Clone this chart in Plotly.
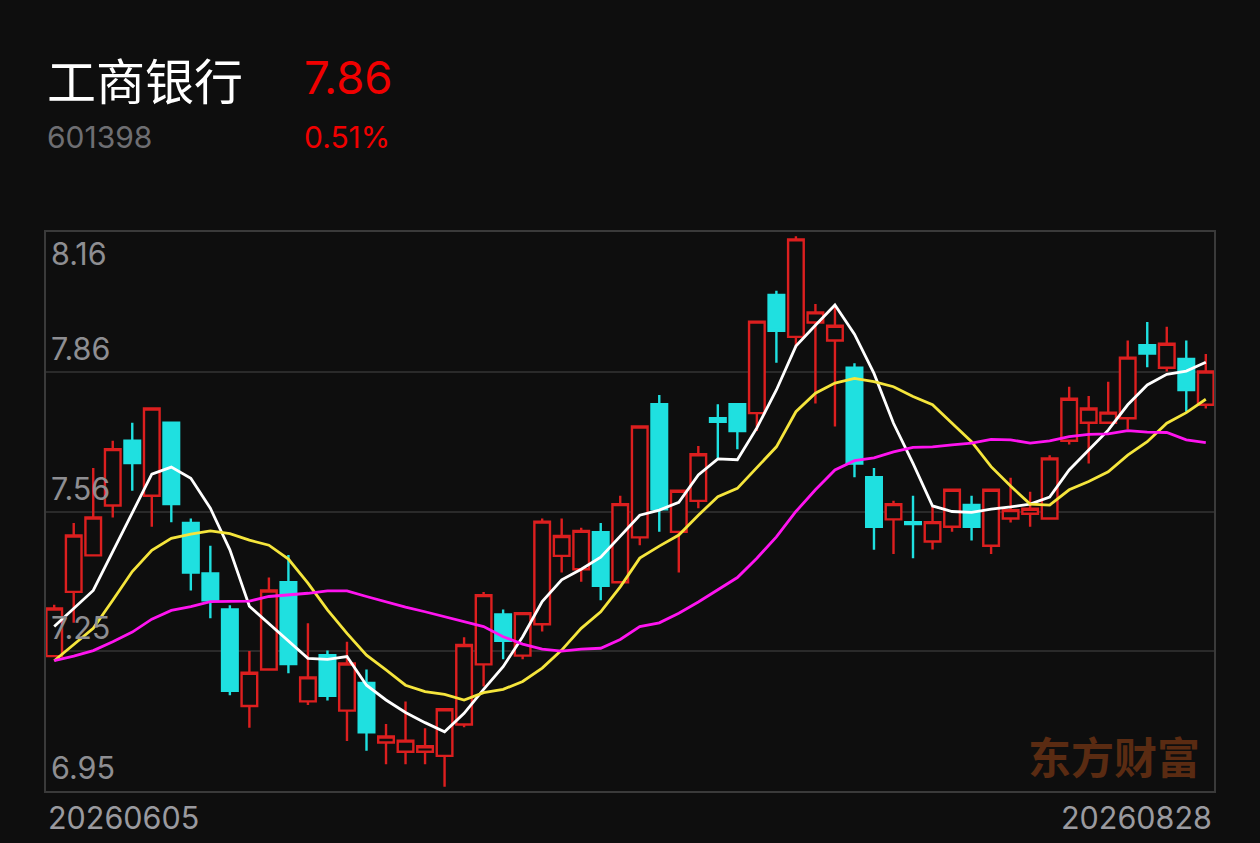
import plotly.graph_objects as go

# stock header
stock_name = "工商银行"
stock_code = "601398"
last_price = "7.86"
change_pct = "0.51%"
date_first = "20260605"
date_last = "20260828"
watermark = "东方财富"

# daily candles, 2026-06-05 .. 2026-08-28
opens = [7.242, 7.381, 7.460, 7.568, 7.708, 7.589, 7.747, 7.530, 7.421, 7.343,
         7.134, 7.213, 7.402, 7.144, 7.244, 7.124, 7.184, 7.055, 7.035, 7.035,
         7.026, 7.094, 7.224, 7.332, 7.243, 7.311, 7.459, 7.430, 7.510, 7.402,
         7.499, 7.787, 7.511, 7.578, 7.757, 7.787, 7.768, 8.024, 7.933, 7.964,
         7.925, 7.866, 7.629, 7.538, 7.532, 7.490, 7.522, 7.569, 7.481, 7.540,
         7.550, 7.540, 7.708, 7.747, 7.747, 7.757, 7.915, 7.866, 7.885, 7.786]
highs = [7.353, 7.530, 7.649, 7.708, 7.747, 7.778, 7.747, 7.540, 7.481, 7.352,
         7.253, 7.412, 7.461, 7.313, 7.254, 7.273, 7.213, 7.095, 7.144, 7.086,
         7.127, 7.283, 7.381, 7.343, 7.335, 7.540, 7.540, 7.520, 7.530, 7.589,
         7.739, 7.807, 7.600, 7.697, 7.787, 7.787, 7.966, 8.033, 8.151, 8.004,
         8.002, 7.876, 7.649, 7.578, 7.589, 7.565, 7.602, 7.589, 7.602, 7.628,
         7.598, 7.677, 7.825, 7.805, 7.836, 7.925, 7.965, 7.955, 7.925, 7.896]
lows = [7.242, 7.314, 7.460, 7.542, 7.600, 7.522, 7.532, 7.384, 7.324, 7.157,
        7.087, 7.213, 7.205, 7.136, 7.146, 7.058, 7.037, 7.008, 7.008, 7.008,
        6.959, 7.088, 7.176, 7.235, 7.235, 7.295, 7.423, 7.403, 7.363, 7.402,
        7.482, 7.511, 7.423, 7.562, 7.670, 7.690, 7.729, 7.877, 7.910, 7.789,
        7.739, 7.629, 7.472, 7.463, 7.454, 7.473, 7.511, 7.492, 7.463, 7.531,
        7.522, 7.540, 7.700, 7.659, 7.747, 7.733, 7.867, 7.858, 7.771, 7.778]
closes = [7.345, 7.503, 7.542, 7.690, 7.660, 7.778, 7.571, 7.423, 7.363, 7.167,
          7.206, 7.384, 7.225, 7.196, 7.156, 7.226, 7.077, 7.068, 7.059, 7.047,
          7.127, 7.266, 7.374, 7.275, 7.335, 7.533, 7.502, 7.513, 7.394, 7.571,
          7.739, 7.560, 7.600, 7.679, 7.749, 7.729, 7.966, 7.946, 8.144, 7.986,
          7.957, 7.659, 7.522, 7.571, 7.528, 7.532, 7.602, 7.522, 7.602, 7.558,
          7.561, 7.670, 7.799, 7.778, 7.769, 7.888, 7.897, 7.918, 7.818, 7.858]

# moving averages as drawn
ma5 = [7.306, 7.345, 7.384, 7.468, 7.552, 7.636, 7.651, 7.627, 7.562, 7.472,
       7.350, 7.313, 7.275, 7.237, 7.235, 7.241, 7.179, 7.147, 7.120, 7.098,
       7.078, 7.118, 7.170, 7.219, 7.284, 7.360, 7.407, 7.430, 7.456, 7.502,
       7.547, 7.558, 7.575, 7.634, 7.669, 7.667, 7.736, 7.818, 7.913, 7.958,
       8.002, 7.939, 7.854, 7.746, 7.659, 7.567, 7.555, 7.553, 7.560, 7.565,
       7.571, 7.586, 7.645, 7.688, 7.731, 7.786, 7.829, 7.852, 7.859, 7.878]
ma10 = [7.232, 7.267, 7.302, 7.363, 7.425, 7.471, 7.497, 7.506, 7.513, 7.507,
        7.493, 7.482, 7.452, 7.400, 7.342, 7.291, 7.244, 7.212, 7.179, 7.165,
        7.159, 7.147, 7.163, 7.170, 7.187, 7.216, 7.255, 7.302, 7.338, 7.392,
        7.454, 7.480, 7.504, 7.547, 7.587, 7.605, 7.649, 7.695, 7.771, 7.811,
        7.833, 7.843, 7.836, 7.825, 7.804, 7.786, 7.746, 7.706, 7.652, 7.610,
        7.571, 7.569, 7.602, 7.620, 7.641, 7.677, 7.706, 7.746, 7.769, 7.798]
ma20 = [7.232, 7.242, 7.254, 7.273, 7.294, 7.322, 7.341, 7.349, 7.360, 7.361,
        7.361, 7.371, 7.374, 7.378, 7.383, 7.383, 7.371, 7.359, 7.348, 7.338,
        7.327, 7.316, 7.306, 7.284, 7.268, 7.257, 7.253, 7.257, 7.259, 7.278,
        7.306, 7.314, 7.335, 7.359, 7.385, 7.412, 7.454, 7.500, 7.555, 7.602,
        7.645, 7.665, 7.671, 7.684, 7.694, 7.695, 7.699, 7.703, 7.711, 7.710,
        7.703, 7.708, 7.717, 7.722, 7.723, 7.730, 7.727, 7.726, 7.710, 7.704]

y_labels = ["8.16", "7.86", "7.56", "7.25", "6.95"]
y_top, y_bottom = 8.16, 6.95

BG = "#0e0e0e"
RED = "#dc1f1f"
CYAN = "#1fe0e0"

x = list(range(len(closes)))
grid_vals = [y_top - i * (y_top - y_bottom) / 4 for i in range(5)]

fig = go.Figure()

fig.add_trace(go.Candlestick(
    x=x, open=opens, high=highs, low=lows, close=closes,
    increasing=dict(line=dict(color=RED, width=2.4), fillcolor=BG),
    decreasing=dict(line=dict(color=CYAN, width=2.4), fillcolor=CYAN),
    whiskerwidth=0, hoverinfo="skip",
))

for vals, col in [(ma5, "#ffffff"), (ma10, "#f5e53c"), (ma20, "#ff14f0")]:
    fig.add_trace(go.Scatter(x=x, y=vals, mode="lines",
                             line=dict(color=col, width=2.8), hoverinfo="skip"))

# price labels sit just above their grid line (top one below the frame)
for i, (v, lab) in enumerate(zip(grid_vals, y_labels)):
    fig.add_annotation(
        x=0, xref="paper", y=v, yref="y", text=lab, showarrow=False,
        xanchor="left", yanchor="top" if i == 0 else "bottom",
        xshift=3, yshift=-1 if i == 0 else 3,
        font=dict(family="Inter", size=30.5, color="#8e8e92"),
    )

fig.add_annotation(x=0, xref="paper", y=-0.048, yref="paper", text=date_first,
                   showarrow=False, xanchor="left", yanchor="middle",
                   font=dict(family="Inter", size=30.5, color="#9a9a9f"))
fig.add_annotation(x=1, xref="paper", y=-0.048, yref="paper", text=date_last,
                   showarrow=False, xanchor="right", yanchor="middle",
                   font=dict(family="Inter", size=30.5, color="#9a9a9f"))

# header
fig.add_annotation(x=-0.001, xref="paper", y=1.274, yref="paper", text=stock_name,
                   showarrow=False, xanchor="left", yanchor="middle",
                   font=dict(family="Noto Sans CJK SC", size=49, color="#ffffff"))
fig.add_annotation(x=0.219, xref="paper", y=1.277, yref="paper", text=last_price,
                   showarrow=False, xanchor="left", yanchor="middle",
                   font=dict(family="Inter", size=45.5, color="#f00000"))
fig.add_annotation(x=-0.001, xref="paper", y=1.170, yref="paper", text=stock_code,
                   showarrow=False, xanchor="left", yanchor="middle",
                   font=dict(family="Inter", size=30, color="#6e6e72"))
fig.add_annotation(x=0.219, xref="paper", y=1.170, yref="paper", text=change_pct,
                   showarrow=False, xanchor="left", yanchor="middle",
                   font=dict(family="Inter", size=30, color="#f00000"))

fig.add_annotation(x=0.9144, xref="paper", y=0.064, yref="paper", text=watermark,
                   showarrow=False, xanchor="center", yanchor="middle",
                   font=dict(family="Noto Sans CJK SC", size=43, color="#5a2b12",
                             weight="bold"))

fig.update_layout(
    width=1260, height=843,
    margin=dict(l=46, r=46, t=232, b=52),
    paper_bgcolor=BG, plot_bgcolor=BG,
    showlegend=False,
    boxgap=0.2, boxgroupgap=0,
    xaxis=dict(range=[-0.42, 59.42], showgrid=False, zeroline=False,
               showticklabels=False, ticks="", rangeslider=dict(visible=False),
               showline=True, mirror=True, linecolor="#3a3a3a", linewidth=2),
    yaxis=dict(range=[y_bottom, y_top], tickvals=grid_vals, showticklabels=False,
               gridcolor="#2a2a2a", gridwidth=2, zeroline=False, ticks="",
               showline=True, mirror=True, linecolor="#3a3a3a", linewidth=2),
)

# drop the page's default 8px body margin so the figure fills the window
fig.write_html("out.html",
               config={"displayModeBar": False},
               post_script="document.body.style.margin='0';"
                           "document.body.style.background='#0e0e0e';")
